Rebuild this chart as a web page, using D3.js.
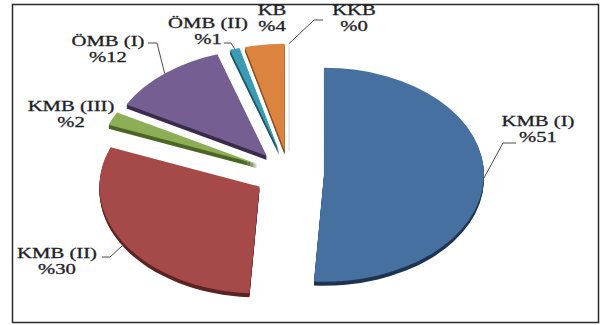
<!DOCTYPE html>
<html>
<head>
<meta charset="utf-8">
<script src="https://cdn.jsdelivr.net/npm/d3@7"></script>
<style>
  html, body { margin: 0; padding: 0; background: #fff; }
  svg { display: block; }
</style>
</head>
<body>
<svg id="chart" width="603" height="325"></svg>
<script>
// Shares of each class (percent)
const categories = ["KMB (I)", "KMB (II)", "KMB (III)", "ÖMB (I)", "ÖMB (II)", "KB", "KKB"];
const shares = [51, 30, 2, 12, 1, 4, 0];
const valueLabels = ["%51", "%30", "%2", "%12", "%1", "%4", "%0"];

// Slice styling
const topColors = ["#46709f", "#a54a48", "#8cae55", "#755e91", "#3c9bb4", "#da843f", "#e6e6e6"];
const sideColors = ["#1f3451", "#5c2422", "#4d6627", "#3b2c4e", "#1e5566", "#8a4e20", "#cccccc"];

// Label layout: text centre, and leader elbow / end (null = no leader)
const labelLayout = [
  { x: 538, y: 121, leader: [[503, 143], [516, 143]] },
  { x: 57,  y: 253, leader: [[110, 257], [102, 257]] },
  { x: 71,  y: 106, leader: null },
  { x: 108, y: 41,  leader: [[157, 43], [148, 43]] },
  { x: 208, y: 23,  leader: [[231, 43], [224, 43]] },
  { x: 272, y: 10,  leader: null },
  { x: 354, y: 10,  leader: [[314, 20], [323, 20]] }
];

const svg = d3.select("#chart");

// Frame
svg.append("rect")
  .attr("x", 12.5).attr("y", 4.5)
  .attr("width", 586).attr("height", 318)
  .attr("fill", "none").attr("stroke", "#2a2a2a").attr("stroke-width", 1.5);

// Tilted pie geometry
const rx = 160, ry = 107, k = ry / rx;
const cx = 289, cy = 174;
const explode = 35, depth = 4;

const pie = d3.pie().sort(null).value(d => d).startAngle(0).endAngle(2 * Math.PI);
const arc = d3.arc().innerRadius(0).outerRadius(rx);
const arcs = pie(shares).map((d, i) => {
  const mid = (d.startAngle + d.endAngle) / 2;
  const ox = cx + explode * Math.sin(mid);
  const oy = cy - explode * Math.cos(mid) * k;
  return { d, i, mid, ox, oy };
});

const slices = svg.append("g");
arcs.slice().sort((a, b) => a.oy - b.oy).forEach(s => {
  const g = slices.append("g").attr("transform", `translate(${s.ox},${s.oy})`);
  if (s.d.value === 0) {
    // Zero-width slice shows only as a faint edge line
    g.append("line")
      .attr("x1", 0).attr("y1", 0)
      .attr("x2", rx * Math.sin(s.mid)).attr("y2", -ry * Math.cos(s.mid))
      .attr("stroke", "#dcdcdc").attr("stroke-width", 1.2);
    return;
  }
  for (let t = depth; t >= 1; t--) {
    g.append("path")
      .attr("transform", `translate(0,${t}) scale(1,${k})`)
      .attr("d", arc(s.d))
      .attr("fill", sideColors[s.i]);
  }
  g.append("path")
    .attr("transform", `scale(1,${k})`)
    .attr("d", arc(s.d))
    .attr("fill", topColors[s.i]);
});

// Leader lines
const line = d3.line();
arcs.forEach(s => {
  const L = labelLayout[s.i];
  if (!L.leader) return;
  const anchor = [s.ox + rx * Math.sin(s.mid), s.oy - ry * Math.cos(s.mid)];
  svg.append("path")
    .attr("d", line([anchor, ...L.leader]))
    .attr("fill", "none").attr("stroke", "#4a4a4a").attr("stroke-width", 1);
});

// Labels
const labels = svg.append("g")
  .attr("font-family", "'Liberation Serif', 'Times New Roman', serif")
  .attr("font-size", 15)
  .attr("fill", "#1e1e28")
  .attr("stroke", "#1e1e28")
  .attr("stroke-width", 0.3)
  .attr("text-anchor", "middle");

categories.forEach((c, i) => {
  const L = labelLayout[i];
  labels.append("text")
    .attr("transform", `translate(${L.x},${L.y + 5}) scale(1.38,1)`)
    .text(c);
  labels.append("text")
    .attr("transform", `translate(${L.x},${L.y + 21}) scale(1.38,1)`)
    .text(valueLabels[i]);
});
</script>
</body>
</html>
